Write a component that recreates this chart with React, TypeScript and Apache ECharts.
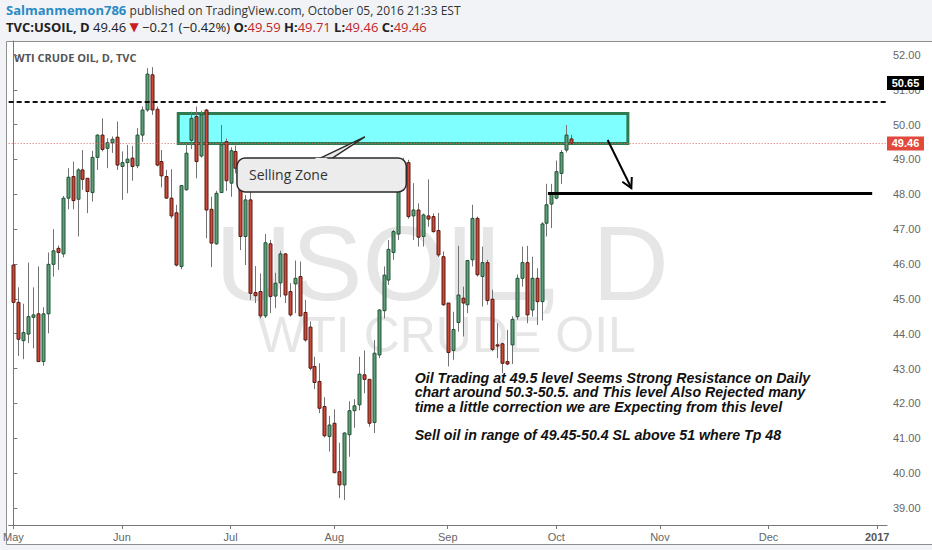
import React, { useEffect, useRef } from "react";
import * as echarts from "echarts";

// ---- data (one bar per weekday, index 0 = 2 May 2016) ----
const opens = [45.97,44.90,43.80,43.99,44.47,44.57,43.20,44.57,45.99,46.45,
46.29,47.89,48.51,47.86,48.70,48.46,48.05,49.06,49.70,49.32,
49.48,49.64,48.80,48.91,49.04,48.82,49.70,50.42,51.43,50.44,
48.94,48.51,47.89,47.47,45.93,48.13,49.55,50.23,49.10,50.42,
47.57,46.58,48.05,49.51,48.32,49.23,48.85,46.79,47.84,45.18,
45.21,44.51,46.58,45.08,45.46,46.29,45.21,45.43,45.64,44.61,
44.19,43.06,42.63,41.91,41.05,41.43,40.04,39.66,41.10,41.79,
41.96,42.82,42.69,41.45,43.39,44.66,45.54,46.33,46.86,48.32,
48.91,47.38,47.55,46.79,47.38,47.36,46.96,46.21,44.88,43.52,
44.32,45.02,44.83,46.12,47.31,45.64,46.04,44.99,43.68,43.71,
43.20,43.68,44.49,45.59,46.04,44.68,45.59,44.92,47.17,47.72,
47.89,48.60,49.27,49.59];
const closes = [44.90,43.84,44.03,44.49,44.54,43.20,44.57,45.99,46.38,46.33,
47.89,48.49,47.82,48.70,48.43,48.08,49.06,49.70,49.29,49.48,
49.58,48.84,48.91,49.01,48.80,49.70,50.42,51.45,50.42,48.84,
48.53,47.89,47.38,45.97,48.25,49.18,50.18,48.94,50.28,47.55,
46.60,48.03,49.42,48.39,49.25,48.75,46.79,47.84,45.16,45.09,
44.51,46.61,45.07,45.45,46.29,45.11,44.54,45.59,44.51,43.82,
43.01,42.60,41.86,41.07,41.38,40.01,39.66,41.15,41.79,41.93,
42.84,42.69,41.43,43.44,44.68,45.68,46.42,46.93,48.34,48.94,
47.36,47.55,46.77,47.41,47.29,46.93,46.26,44.83,43.46,44.12,
45.11,44.88,46.10,47.31,45.69,46.04,44.95,43.55,43.66,43.15,
43.13,44.41,45.59,46.04,44.54,45.59,44.92,47.15,47.70,48.03,
48.65,49.20,49.70,49.46];
const lows = [44.61,43.36,43.27,43.73,43.58,43.20,43.08,44.01,45.64,45.83,
46.19,47.57,47.57,46.79,48.13,47.46,47.79,48.70,49.23,48.75,
49.19,48.70,47.84,48.03,48.39,48.75,49.51,50.37,50.28,48.80,
48.20,47.89,47.31,45.93,45.85,48.11,49.30,48.46,49.05,46.74,
45.91,46.55,48.04,48.10,47.93,48.60,46.40,45.97,44.97,44.88,
44.44,44.45,44.59,44.73,45.05,44.88,44.49,44.59,44.51,43.77,
42.95,42.41,41.72,41.02,40.62,40.00,39.28,39.23,40.47,41.30,
41.80,42.29,41.33,41.15,43.30,44.44,45.40,46.12,46.69,48.10,
47.30,46.69,46.50,46.50,47.07,46.90,46.20,44.80,43.06,43.25,
44.06,43.92,44.59,45.93,45.64,44.78,44.83,43.50,43.30,42.87,
43.10,43.13,44.40,45.35,44.30,44.49,44.25,44.38,46.79,47.03,
47.86,48.30,49.20,49.46];
const highs = [46.12,45.33,44.86,46.04,45.33,45.93,44.76,46.33,47.00,46.53,
47.95,48.75,48.94,48.75,49.27,48.46,49.25,49.72,50.18,49.61,
49.66,50.09,49.23,49.42,49.39,49.90,50.52,51.62,51.65,50.52,
49.27,48.70,48.72,47.70,48.25,49.47,50.37,50.52,50.40,50.45,
47.93,48.10,49.99,49.60,49.35,49.40,49.00,47.98,48.22,45.94,
45.73,46.86,46.69,45.75,46.38,46.31,45.45,46.10,46.07,44.97,
44.35,43.34,43.15,42.18,41.64,41.83,40.87,41.17,42.06,42.12,
43.34,43.52,42.69,43.82,44.70,45.93,46.69,46.98,48.65,49.05,
48.99,48.32,47.74,47.45,48.43,47.45,47.47,46.36,44.88,44.63,
46.52,45.35,46.12,47.70,47.36,46.50,46.12,45.26,44.30,43.74,
44.11,44.50,45.70,46.50,46.52,46.21,45.88,47.20,48.30,48.30,
48.97,49.27,49.99,49.71];

const monthTickIdx = [0, 22, 44, 65, 88, 110, 131, 153, 175];
const monthTickLabels = ["May", "Jun", "Jul", "Aug", "Sep", "Oct", "Nov", "Dec", "2017"];
const priceTicks = [39, 40, 41, 42, 43, 44, 45, 46, 47, 48, 49, 50, 51, 52];

const resistanceLevel = 50.65;
const lastPrice = 49.46;
const zone = { x0: 33.4, x1: 124.5, top: 50.32, bottom: 49.455 };
const targetLine = { x0: 108.3, x1: 174, price: 48.03 };
const arrowFrom = [120.4, 49.56];
const arrowTo = [125.2, 48.18];
const callout = { x0: 45.3, x1: 79.6, top: 49.04, bottom: 48.07 };
const calloutTip = [71.2, 49.65];
const calloutBase = [60.9, 63.7];
const noteAnchor = [81.3, 42.93];

const noteLines = [
  "Oil Trading at 49.5 level Seems Strong Resistance on Daily",
  "chart around 50.3-50.5. and This level Also Rejected many",
  "time a little correction we are Expecting from this level",
  "",
  "Sell oil in range of 49.45-50.4 SL above 51 where Tp 48",
];

const AX_FONT = "'Liberation Sans', Arial, sans-serif";
const UI_FONT = "'Open Sans', 'DejaVu Sans', sans-serif";

export default function App() {
  const ref = useRef<HTMLDivElement>(null);

  useEffect(() => {
    const chart = echarts.init(ref.current!, null, { renderer: "svg" });
    const candles = opens.map((o, i) => [i, o, closes[i], lows[i], highs[i]]);

    const staticGraphic: any[] = [
      {
        type: "rect", z: -10, silent: true,
        shape: { x: 6.5, y: 41.5, width: 930, height: 503 },
        style: { fill: "#ffffff", stroke: "#8e8e8e", lineWidth: 1 },
      },
      {
        type: "text", z: -5, silent: true, x: 442, y: 263,
        style: { text: "USOIL, D", fontSize: 106, fontFamily: AX_FONT, fill: "#e6e6e6", align: "center", verticalAlign: "middle" },
      },
      {
        type: "text", z: -5, silent: true, x: 447, y: 335,
        style: { text: "WTI CRUDE OIL", fontSize: 50, fontFamily: AX_FONT, fill: "#e6e6e6", align: "center", verticalAlign: "middle" },
      },
      {
        type: "text", x: 6, y: 10,
        style: {
          text: "{u|Salmanmemon786} {t|published on TradingView.com, October 05, 2016 21:33 EST}",
          verticalAlign: "middle",
          rich: {
            u: { fontSize: 13, fontFamily: UI_FONT, fontWeight: "bold", fill: "#2b8ac4", lineHeight: 15 },
            t: { fontSize: 12, fontFamily: UI_FONT, fill: "#333333", lineHeight: 15 },
          },
        },
      },
      {
        type: "text", x: 6, y: 27,
        style: {
          text: "{b|TVC:USOIL, D} {n|49.46} {r|▼} {n|−0.21 (−0.42%)} {b|O:}{v|49.59} {b|H:}{v|49.71} {b|L:}{v|49.46} {b|C:}{v|49.46}",
          verticalAlign: "middle",
          rich: {
            b: { fontSize: 13, fontFamily: UI_FONT, fontWeight: "bold", fill: "#222222", lineHeight: 15 },
            n: { fontSize: 13, fontFamily: UI_FONT, fill: "#222222", lineHeight: 15 },
            r: { fontSize: 12, fontFamily: "'DejaVu Sans', sans-serif", fill: "#c81e1e", lineHeight: 15 },
            v: { fontSize: 13, fontFamily: UI_FONT, fill: "#c0282b", lineHeight: 15 },
          },
        },
      },
      {
        type: "text", x: 14, y: 57,
        style: { text: "WTI CRUDE OIL, D, TVC", fontSize: 11, fontWeight: "bold", fontFamily: UI_FONT, fill: "#555555", verticalAlign: "middle" },
      },
    ];

    const option: any = {
      animation: false,
      backgroundColor: "transparent",
      grid: { left: 6, top: 41, right: 45, bottom: 25, show: false },
      xAxis: {
        type: "value",
        min: -0.96,
        max: 177.0,
        splitLine: { show: false },
        axisLine: { show: true, onZero: false, lineStyle: { color: "#777777", width: 1 } },
        axisTick: { show: true, length: 4, customValues: monthTickIdx, lineStyle: { color: "#777777" } },
        axisLabel: {
          customValues: monthTickIdx,
          margin: 6,
          fontSize: 11,
          fontFamily: AX_FONT,
          color: "#666666",
          formatter: (v: number) => {
            const k = monthTickIdx.indexOf(Math.round(v));
            const s = k >= 0 ? monthTickLabels[k] : "";
            return s === "2017" ? "{y|2017}" : s;
          },
          rich: { y: { fontSize: 11, fontFamily: AX_FONT, fontWeight: "bold", color: "#555555" } },
        },
      },
      yAxis: {
        type: "value",
        position: "right",
        min: 38.51,
        max: 52.4,
        splitLine: { show: false },
        axisLine: { show: true, lineStyle: { color: "#777777", width: 1 } },
        axisTick: { show: true, length: 4, customValues: priceTicks, lineStyle: { color: "#777777" } },
        axisLabel: {
          customValues: priceTicks,
          margin: 6,
          fontSize: 11,
          fontFamily: AX_FONT,
          color: "#666666",
          formatter: (v: number) => v.toFixed(2),
        },
      },
      series: [
        {
          type: "custom",
          z: 2,
          clip: true,
          encode: { x: 0, y: [1, 2, 3, 4] },
          data: candles,
          renderItem: (params: any, api: any) => {
            const x = api.value(0);
            const o = api.value(1);
            const c = api.value(2);
            const l = api.value(3);
            const h = api.value(4);
            const pO = api.coord([x, o]);
            const pC = api.coord([x, c]);
            const pL = api.coord([x, l]);
            const pH = api.coord([x, h]);
            const up = c >= o;
            const cx = Math.round(pO[0]) + 0.5;
            const top = Math.min(pO[1], pC[1]);
            const bh = Math.max(Math.abs(pO[1] - pC[1]), 1.2);
            return {
              type: "group",
              children: [
                { type: "line", shape: { x1: cx, y1: pH[1], x2: cx, y2: pL[1] }, style: { stroke: "#737375", lineWidth: 1 } },
                {
                  type: "rect",
                  shape: { x: cx - 1.5, y: top, width: 3, height: bh },
                  style: { fill: up ? "#5e9e78" : "#c9493a", stroke: up ? "#225437" : "#5b1a13", lineWidth: 1 },
                },
              ],
            };
          },
        },
        {
          type: "line",
          z: 5,
          data: [],
          silent: true,
          markLine: {
            silent: true,
            symbol: ["none", "none"],
            label: { show: false },
            data: [
              { yAxis: resistanceLevel, lineStyle: { color: "#111111", type: [5, 3], width: 2 } },
              { yAxis: lastPrice, lineStyle: { color: "#e36b6b", type: [1, 2], width: 1 } },
              [
                { coord: [targetLine.x0, targetLine.price], lineStyle: { color: "#000000", type: "solid", width: 3 } },
                { coord: [targetLine.x1, targetLine.price] },
              ],
            ],
          },
          markArea: {
            silent: true,
            itemStyle: { color: "rgba(0,255,255,0.5)", borderColor: "#2f7a4f", borderWidth: 3 },
            data: [[{ coord: [zone.x0, zone.top] }, { coord: [zone.x1, zone.bottom] }]],
          },
        },
      ],
      graphic: staticGraphic,
    };

    chart.setOption(option);

    const px = (p: number[]) => chart.convertToPixel({ gridIndex: 0 }, p) as number[];

    // callout
    const bTL = px([callout.x0, callout.top]);
    const bBR = px([callout.x1, callout.bottom]);
    const tip = px(calloutTip);
    const bl = px([calloutBase[0], callout.top]);
    const br = px([calloutBase[1], callout.top]);
    // arrow
    const a0 = px(arrowFrom);
    const a1 = px(arrowTo);
    const ang = Math.atan2(a1[1] - a0[1], a1[0] - a0[0]);
    const hl = 11;
    const h1 = [a1[0] - hl * Math.cos(ang - 0.5), a1[1] - hl * Math.sin(ang - 0.5)];
    const h2 = [a1[0] - hl * Math.cos(ang + 0.5), a1[1] - hl * Math.sin(ang + 0.5)];
    // price labels
    const yRes = px([0, resistanceLevel])[1] - 19;
    const yLast = px([0, lastPrice])[1];
    const axisX = px([177.0, 0])[0];
    const note = px(noteAnchor);

    const noteEls = noteLines
      .map((t, i) => ({ t, i }))
      .filter((d) => d.t.length > 0)
      .map((d) => ({
        type: "text", z: 25, x: note[0], y: note[1] + 7 + d.i * 14.3,
        style: {
          text: d.t, fontSize: 14.2, fontStyle: "italic", fontWeight: "bold", fontFamily: AX_FONT,
          fill: "#111111", verticalAlign: "middle",
        },
      }));

    const annot: any[] = [
      {
        type: "polygon", z: 20, silent: true,
        shape: { points: [[bl[0], bl[1] + 3], tip, [br[0], br[1] + 3]] },
        style: { fill: "#ececec", stroke: "#2a2a2a", lineWidth: 1.5 },
      },
      {
        type: "rect", z: 21, silent: true,
        shape: { x: bTL[0], y: bTL[1], width: bBR[0] - bTL[0], height: bBR[1] - bTL[1], r: 8 },
        style: { fill: "#ececec", stroke: "#2a2a2a", lineWidth: 1.5 },
      },
      {
        type: "rect", z: 22, silent: true,
        shape: { x: bl[0] + 1.5, y: bl[1] - 0.2, width: br[0] - bl[0] - 2, height: 3 },
        style: { fill: "#ececec" },
      },
      {
        type: "text", z: 23, x: bTL[0] + 12, y: (bTL[1] + bBR[1]) / 2,
        style: { text: "Selling Zone", fontSize: 14, fontFamily: UI_FONT, fill: "#333333", verticalAlign: "middle" },
      },
      {
        type: "line", z: 20, silent: true,
        shape: { x1: a0[0], y1: a0[1], x2: a1[0], y2: a1[1] },
        style: { stroke: "#000000", lineWidth: 2 },
      },
      {
        type: "polyline", z: 20, silent: true,
        shape: { points: [h1, a1, h2] },
        style: { stroke: "#000000", lineWidth: 2, fill: null },
      },
      {
        type: "group", z: 30,
        children: [
          { type: "rect", z: 30, shape: { x: axisX, y: yRes - 7, width: 37, height: 14 }, style: { fill: "#000000" } },
          {
            type: "text", z: 31, x: axisX + 18.5, y: yRes,
            style: { text: "50.65", fontSize: 11, fontWeight: "bold", fontFamily: AX_FONT, fill: "#ffffff", align: "center", verticalAlign: "middle" },
          },
          { type: "rect", z: 30, shape: { x: axisX, y: yLast - 7, width: 37, height: 14 }, style: { fill: "#e0493b" } },
          {
            type: "text", z: 31, x: axisX + 18.5, y: yLast,
            style: { text: "49.46", fontSize: 11, fontWeight: "bold", fontFamily: AX_FONT, fill: "#ffffff", align: "center", verticalAlign: "middle" },
          },
        ],
      },
      ...noteEls,
    ];

    chart.setOption({ graphic: [...staticGraphic, ...annot] });

    return () => chart.dispose();
  }, []);

  return (
    <div style={{ position: "fixed", left: 0, top: 0, width: 932, height: 550, background: "#f1f3f6", overflow: "hidden" }}>
      <div ref={ref} style={{ width: 932, height: 550 }} />
    </div>
  );
}
